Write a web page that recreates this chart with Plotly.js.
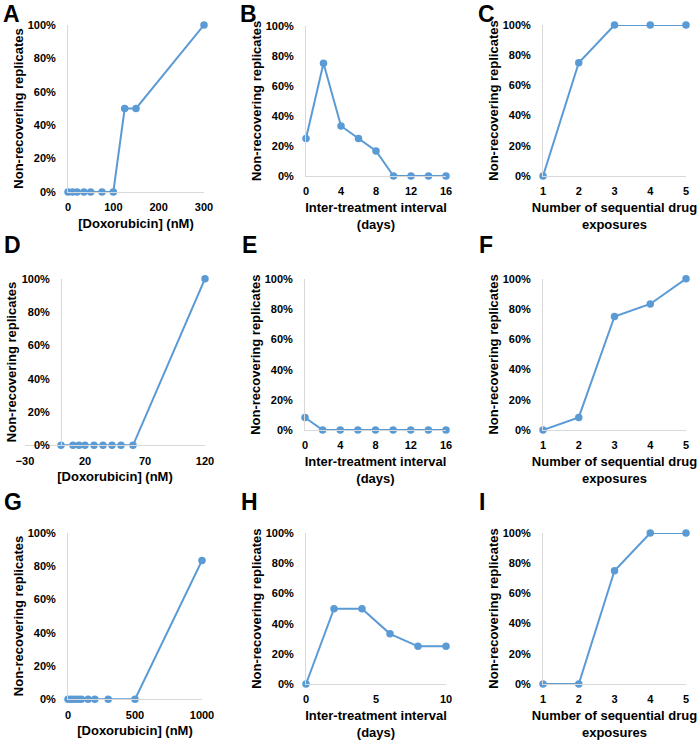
<!DOCTYPE html>
<html>
<head>
<meta charset="utf-8">
<script src="https://cdn.plot.ly/plotly-3.0.1.min.js"></script>
<style>
  body { margin: 0; background: #fff; }
  #chart { width: 700px; height: 740px; }
</style>
</head>
<body>
<div id="chart"></div>
<script>
    'use strict';

    // panel data
    var doseA = [0, 10, 20, 35, 50, 75, 100, 125, 150, 300];
    var fracA = [0, 0, 0, 0, 0, 0, 0, 0.5, 0.5, 1];

    var daysB = [0, 2, 4, 6, 8, 10, 12, 14, 16];
    var fracB = [0.25, 0.75, 0.333, 0.25, 0.167, 0, 0, 0, 0];

    var exposuresC = [1, 2, 3, 4, 5];
    var fracC = [0, 0.75, 1, 1, 1];

    var doseD = [0, 10, 15, 20, 27.5, 35, 42.5, 50, 60, 120];
    var fracD = [0, 0, 0, 0, 0, 0, 0, 0, 0, 1];

    var daysE = [0, 2, 4, 6, 8, 10, 12, 14, 16];
    var fracE = [0.083, 0, 0, 0, 0, 0, 0, 0, 0];

    var exposuresF = [1, 2, 3, 4, 5];
    var fracF = [0, 0.083, 0.75, 0.833, 1];

    var doseG = [0, 25, 50, 75, 100, 150, 200, 300, 500, 1000];
    var fracG = [0, 0, 0, 0, 0, 0, 0, 0, 0, 0.833];

    var daysH = [0, 2, 4, 6, 8, 10];
    var fracH = [0, 0.5, 0.5, 0.333, 0.25, 0.25];

    var exposuresI = [1, 2, 3, 4, 5];
    var fracI = [0, 0, 0.75, 1, 1];

    var panelLetters = ['A', 'B', 'C', 'D', 'E', 'F', 'G', 'H', 'I'];
    var yTitle = 'Non-recovering replicates';
    var doseTitle = '[Doxorubicin] (nM)';
    var daysTitle = 'Inter-treatment interval<br>(days)';
    var exposuresTitle = 'Number of sequential drug<br>exposures';

    var W = 700, H = 740;
    var BLUE = '#5B9BD5';
    var AXIS = '#d9d9d9';
    var FONT = 'Liberation Sans, Arial, sans-serif';

    function px(x) { return x / W; }
    function py(y) { return 1 - y / H; }

    function trace(x, y, n) {
        var s = n === 1 ? '' : String(n);
        return {
            x: x,
            y: y,
            xaxis: 'x' + s,
            yaxis: 'y' + s,
            mode: 'lines+markers',
            line: { color: BLUE, width: 2 },
            marker: { color: BLUE, size: 7.5 },
            cliponaxis: false,
            showlegend: false,
            hoverinfo: 'x+y'
        };
    }

    function xAxis(n, left, right, range, dtick, title) {
        var s = n === 1 ? '' : String(n);
        return {
            domain: [px(left), px(right)],
            anchor: 'y' + s,
            range: range,
            tick0: range[0],
            dtick: dtick,
            showgrid: false,
            zeroline: false,
            showline: true,
            linecolor: AXIS,
            linewidth: 1,
            ticks: '',
            ticklabelstandoff: 5,
            tickfont: { family: FONT, size: 11, weight: 'bold', color: '#000' },
            title: {
                text: title,
                standoff: 6,
                font: { family: FONT, size: 13, weight: 'bold', color: '#000' }
            }
        };
    }

    function yAxis(n, top, bottom) {
        var s = n === 1 ? '' : String(n);
        return {
            domain: [py(bottom), py(top)],
            anchor: 'x' + s,
            range: [0, 1],
            dtick: 0.2,
            tickformat: '.0%',
            showgrid: false,
            zeroline: false,
            showline: true,
            linecolor: AXIS,
            linewidth: 1,
            ticks: '',
            ticklabelstandoff: 9,
            tickfont: { family: FONT, size: 11, weight: 'bold', color: '#000' },
            title: {
                text: yTitle,
                standoff: 1,
                font: { family: FONT, size: 13, weight: 'bold', color: '#000' }
            }
        };
    }

    var data = [
        trace(doseA, fracA, 1),
        trace(daysB, fracB, 2),
        trace(exposuresC, fracC, 3),
        trace(doseD, fracD, 4),
        trace(daysE, fracE, 5),
        trace(exposuresF, fracF, 6),
        trace(doseG, fracG, 7),
        trace(daysH, fracH, 8),
        trace(exposuresI, fracI, 9)
    ];

    var layout = {
        width: W,
        height: H,
        margin: { l: 0, r: 0, t: 0, b: 0 },
        paper_bgcolor: '#fff',
        plot_bgcolor: '#fff',
        font: { family: FONT, color: '#000' },

        xaxis: xAxis(1, 68, 204, [0, 300], 100, doseTitle),
        yaxis: yAxis(1, 25, 192),
        xaxis2: xAxis(2, 306, 446, [0, 16], 4, daysTitle),
        yaxis2: yAxis(2, 25.7, 176),
        xaxis3: xAxis(3, 543, 686, [1, 5], 1, exposuresTitle),
        yaxis3: yAxis(3, 25, 176),

        xaxis4: xAxis(4, 25, 205, [-30, 120], 50, doseTitle),
        yaxis4: yAxis(4, 278.7, 445.3),
        xaxis5: xAxis(5, 305, 446, [0, 16], 4, daysTitle),
        yaxis5: yAxis(5, 279.3, 430),
        xaxis6: xAxis(6, 543, 686, [1, 5], 1, exposuresTitle),
        yaxis6: yAxis(6, 278.7, 430),

        xaxis7: xAxis(7, 68, 202, [0, 1000], 500, doseTitle),
        yaxis7: yAxis(7, 532.7, 699.3),
        xaxis8: xAxis(8, 306, 446, [0, 10], 5, daysTitle),
        yaxis8: yAxis(8, 533.3, 684),
        xaxis9: xAxis(9, 543, 686, [1, 5], 1, exposuresTitle),
        yaxis9: yAxis(9, 533, 684),

        annotations: []
    };

    // panel D: the vertical axis crosses at x = 0
    layout.yaxis4.anchor = 'free';
    layout.yaxis4.position = px(61);

    // letters: top edge of the text box for each row
    var letterX = [2, 239, 477, 3, 241, 478, 3, 240, 478];
    var letterTop = [0, 0, 0, 231, 231, 231, 488, 488, 488];
    for (var i = 0; i < panelLetters.length; i++) {
        layout.annotations.push({
            text: panelLetters[i],
            xref: 'paper',
            yref: 'paper',
            x: px(letterX[i]),
            y: py(letterTop[i]),
            xanchor: 'left',
            yanchor: 'top',
            borderpad: 0,
            showarrow: false,
            font: { family: FONT, size: 23, weight: 'bold', color: '#000' }
        });
    }

    Plotly.newPlot('chart', data, layout, { displayModeBar: false, staticPlot: true });
</script>
</body>
</html>
